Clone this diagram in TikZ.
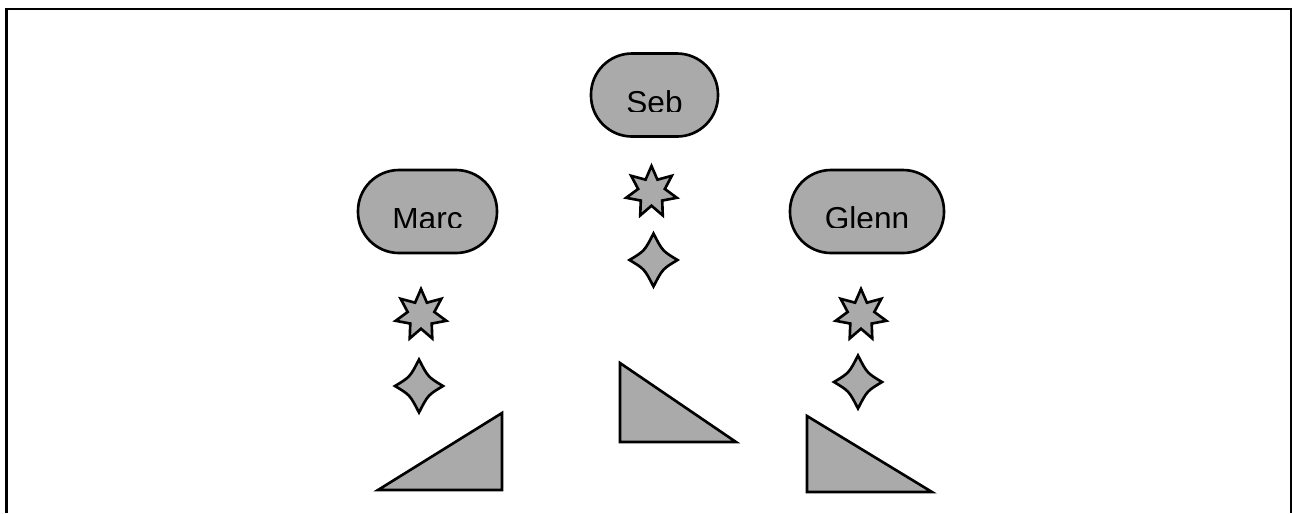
\documentclass[tikz,border=0pt]{standalone}
\usepackage{fontspec}
\setmainfont{Liberation Sans}
\usepackage{trimclip}
\usetikzlibrary{shapes.geometric,positioning}
\definecolor{shapegray}{HTML}{AAAAAA}

\begin{document}
\begin{tikzpicture}[line width=0.75pt, on grid,
  person/.style={draw, fill=shapegray, rectangle, rounded corners=0.41cm, minimum height=0.83cm, inner sep=0pt, font=\fontsize{9}{10}\selectfont, text height=0.32cm, text depth=0pt},
  spark/.style={draw, fill=shapegray, star, star points=7, star point ratio=1.9, minimum size=0.52cm, inner sep=0pt},
  ramp/.style={draw, fill=shapegray},
  twinkle/.pic={\path[draw, fill=shapegray] (0,0.265) .. controls (0.09,0.09) .. (0.24,0) .. controls (0.09,-0.09) .. (0,-0.265) .. controls (-0.09,-0.09) .. (-0.24,0) .. controls (-0.09,0.09) .. cycle;}]
  \useasboundingbox (0,0) rectangle (12.92,-5.13);
  \draw[line width=0.8pt] (0.065,-5.13) -- (0.065,-0.09) -- (12.91,-0.09) -- (12.91,-5.13);

  \node[person, minimum width=1.27cm] (seb) at (6.545,-0.95) {\clipbox{0pt 0.75pt 0pt 0pt}{Seb}};
  \node[person, minimum width=1.39cm] (marc) at (4.275,-2.115) {\clipbox{0pt 0.75pt 0pt 0pt}{Marc}};
  \node[person, minimum width=1.54cm] (glenn) at (8.67,-2.115) {\clipbox{0pt 0.75pt 0pt 0pt}{Glenn}};

  \node[spark] (sebstar) [below=0.97cm of seb, xshift=-0.03cm] {};
  \node[spark] (marcstar) [below=1.035cm of marc, xshift=-0.065cm] {};
  \node[spark] (glennstar) [below=1.035cm of glenn, xshift=-0.06cm] {};

  \coordinate[below=0.68cm of sebstar, xshift=0.02cm] (sebkite);
  \coordinate[below=0.71cm of marcstar, xshift=-0.02cm] (marckite);
  \coordinate[below=0.67cm of glennstar, xshift=-0.03cm] (glennkite);
  \pic at (sebkite) {twinkle};
  \pic at (marckite) {twinkle};
  \pic at (glennkite) {twinkle};

  \draw[ramp] (3.78,-4.90) -- (5.02,-4.90) -- (5.02,-4.13) -- cycle;
  \draw[ramp] (6.20,-3.63) -- (6.20,-4.42) -- (7.36,-4.42) -- cycle;
  \draw[ramp] (8.07,-4.16) -- (8.07,-4.92) -- (9.32,-4.92) -- cycle;
\end{tikzpicture}
\end{document}
